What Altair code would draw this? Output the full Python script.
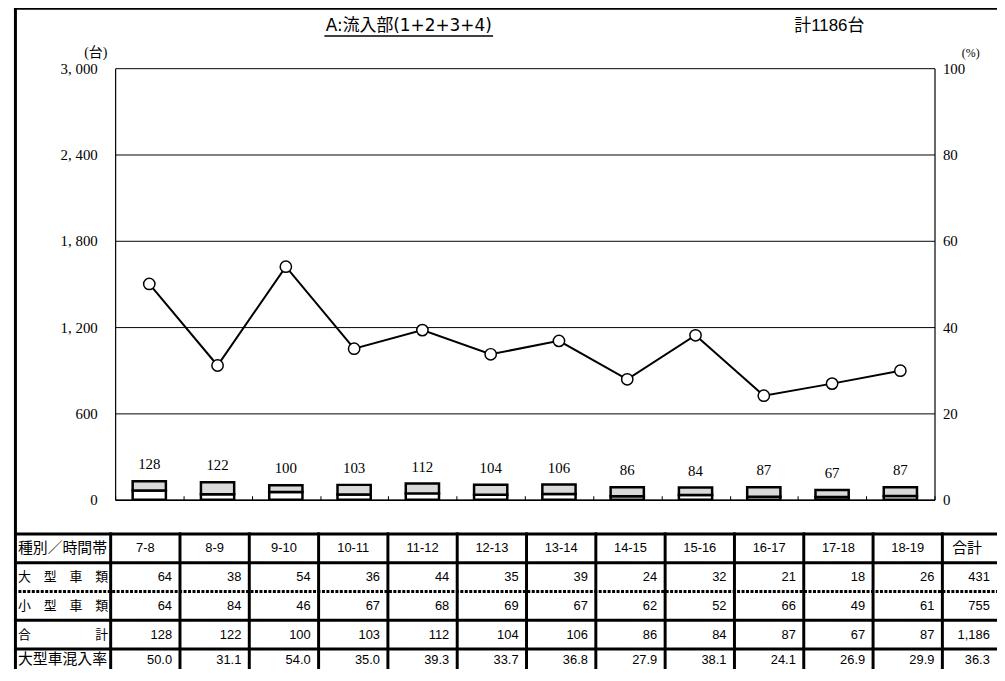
import altair as alt
import pandas as pd

# ---------------- data ----------------
hours = ["7-8", "8-9", "9-10", "10-11", "11-12", "12-13", "13-14",
         "14-15", "15-16", "16-17", "17-18", "18-19"]
large = [64, 38, 54, 36, 44, 35, 39, 24, 32, 21, 18, 26]
small = [64, 84, 46, 67, 68, 69, 67, 62, 52, 66, 49, 61]
total = [128, 122, 100, 103, 112, 104, 106, 86, 84, 87, 67, 87]
rate = [50.0, 31.1, 54.0, 35.0, 39.3, 33.7, 36.8, 27.9, 38.1, 24.1, 26.9, 29.9]
sum_label = "合計"
sum_large = 431
sum_small = 755
sum_total = 1186
sum_rate = 36.3
title_main = "A:流入部(1+2+3+4)"
title_total = "計1186台"
row_keys = ["head", "large", "small", "total", "rate"]
row_labels = ["種別／時間帯", "大　型　車　類", "小　型　車　類", "合　　　　　計", "大型車混入率"]
type_names = ["大型車類", "小型車類"]
y_left_ticks = [0, 600, 1200, 1800, 2400, 3000]
y_right_ticks = [0, 20, 40, 60, 80, 100]

# ---------------- tables built from the arrays ----------------
W, H = 826, 435
SANS = "Liberation Sans, Noto Sans CJK JP"
CJK = "Noto Sans CJK JP"
SERIF = "Liberation Serif, Noto Sans CJK JP"

bar_df = pd.DataFrame(
    [{"hour": h, "type": type_names[0], "value": v, "ord": 0} for h, v in zip(hours, large)]
    + [{"hour": h, "type": type_names[1], "value": v, "ord": 1} for h, v in zip(hours, small)]
)
lab_df = pd.DataFrame({"hour": hours, "value": total})
rate_df = pd.DataFrame({"hour": hours, "rate": rate})

cols = hours + [sum_label]
col_large = large + [sum_large]
col_small = small + [sum_small]
col_total = total + [sum_total]
col_rate = rate + [sum_rate]
head_df = pd.DataFrame({"col": cols, "row": "head", "text": cols})
val_recs = []
for i, c in enumerate(cols):
    val_recs.append({"col": c, "row": "large", "text": f"{col_large[i]:,}"})
    val_recs.append({"col": c, "row": "small", "text": f"{col_small[i]:,}"})
    val_recs.append({"col": c, "row": "total", "text": f"{col_total[i]:,}"})
    val_recs.append({"col": c, "row": "rate", "text": f"{col_rate[i]:.1f}"})
val_df = pd.DataFrame(val_recs)
rowlab_df = pd.DataFrame({"row": row_keys, "label": row_labels})
hline_df = pd.DataFrame({"row": row_keys})
vline_df = pd.DataFrame({"col": cols})
one = pd.DataFrame({"a": [0]})
title_df = pd.DataFrame({"t": [title_main]})
total_df = pd.DataFrame({"t": [title_total]})

# ---------------- main plot ----------------
x_scale = alt.Scale(domain=hours, paddingInner=0, paddingOuter=0)
x_axis = alt.Axis(orient="top", offset=-H, labels=False, title=None, domain=True,
                  domainColor="black", domainWidth=1.5, ticks=True, tickColor="black",
                  tickWidth=1, tickSize=4, tickBand="extent", grid=False)
xenc = alt.X("hour:N", sort=hours, scale=x_scale, axis=x_axis)

yl_axis = alt.Axis(orient="left", values=y_left_ticks, grid=True, gridColor="black",
                   gridWidth=1, ticks=False, domain=True, domainColor="black", domainWidth=1.2,
                   labelFont=SERIF, labelFontSize=15, labelColor="black", labelPadding=18,
                   labelBaseline="middle",
                   labelExpr="replace(format(datum.value, ','), ',', ', ')",
                   title="(台)", titleAngle=0, titleX=-20, titleY=-16, titleFont=SERIF,
                   titleFontSize=14, titleFontWeight="normal", titleAlign="center",
                   titleBaseline="middle", titleColor="black")
yl = alt.Y("value:Q", stack="zero", scale=alt.Scale(domain=[0, 3000], nice=False), axis=yl_axis)

bars = alt.Chart(bar_df).mark_bar(size=33.5, stroke="black", strokeWidth=2.5).encode(
    x=xenc,
    y=yl,
    fill=alt.Fill("type:N", scale=alt.Scale(domain=type_names, range=["white", "#d9d9d9"]), legend=None),
    order=alt.Order("ord:Q"),
)
bar_labels = alt.Chart(lab_df).mark_text(font=SERIF, fontSize=15, baseline="middle", dy=-17,
                                         color="black").encode(
    x=xenc,
    y=yl,
    text=alt.Text("value:Q"),
)

yr_axis = alt.Axis(orient="right", values=y_right_ticks, grid=False, ticks=False, domain=True,
                   domainColor="black", domainWidth=1.2, labelFont=SERIF, labelFontSize=15,
                   labelColor="black", labelPadding=8, labelBaseline="middle",
                   title="(%)", titleAngle=0, titleX=36, titleY=-16, titleFont=SERIF,
                   titleFontSize=12, titleFontWeight="normal", titleAlign="center",
                   titleBaseline="middle", titleColor="black")
yr = alt.Y("rate:Q", scale=alt.Scale(domain=[0, 100], nice=False), axis=yr_axis)

line = alt.Chart(rate_df).mark_line(color="black", strokeWidth=2).encode(x=xenc, y=yr)
points = alt.Chart(rate_df).mark_circle(size=130, fill="white", stroke="black",
                                        strokeWidth=1.5, opacity=1).encode(x=xenc, y=yr)

plot = alt.layer(alt.layer(bars, bar_labels), alt.layer(line, points)).resolve_scale(y="independent")

# ---------------- table ----------------
tx_scale = alt.Scale(domain=cols, range=[-4.5, 903.8], paddingInner=0, paddingOuter=0)
ty_scale = alt.Scale(domain=row_keys, range=[469.5, 614.5], paddingInner=0, paddingOuter=0)
tyenc = alt.Y("row:N", scale=ty_scale, axis=None)
last_row = "datum.row == 'rate'"
sum_col = f"datum.col == '{sum_label}'"

hlines = alt.Chart(hline_df).mark_rule(color="black", strokeWidth=3).encode(
    y=alt.Y("row:N", bandPosition=0, scale=ty_scale, axis=None),
    x=alt.value(-102), x2=alt.value(1000),
    strokeDash=alt.condition("datum.row == 'small'", alt.value([3, 1.5]), alt.value([1, 0])),
)
vlines = alt.Chart(vline_df).mark_rule(color="black", strokeWidth=3).encode(
    x=alt.X("col:N", bandPosition=0, scale=tx_scale, axis=None),
    y=alt.value(468), y2=alt.value(700),
)
head_txt = alt.Chart(head_df).transform_filter(f"!({sum_col})").mark_text(
    font=SANS, fontSize=13, align="center", baseline="middle", color="black").encode(
    x=alt.X("col:N", bandPosition=0.5, scale=tx_scale, axis=None),
    y=tyenc, text="text:N",
)
head_sum = alt.Chart(head_df).transform_filter(sum_col).mark_text(
    font=SANS, fontSize=15, align="center", baseline="middle", dx=-10, color="black").encode(
    x=alt.X("col:N", bandPosition=0.5, scale=tx_scale, axis=None),
    y=tyenc, text="text:N",
)


def values_layer(filt, dx, dy):
    return alt.Chart(val_df).transform_filter(filt).mark_text(
        font=SANS, fontSize=13, align="right", baseline="middle", dx=dx, dy=dy,
        color="black").encode(
        x=alt.X("col:N", bandPosition=1, scale=tx_scale, axis=None),
        y=tyenc, text="text:N",
    )


val_main = values_layer(f"!({sum_col}) && !({last_row})", -8, 0)
val_main_last = values_layer(f"!({sum_col}) && ({last_row})", -8, -3)
val_sum = values_layer(f"({sum_col}) && !({last_row})", -22, 0)
val_sum_last = values_layer(f"({sum_col}) && ({last_row})", -22, -3)

row_txt = alt.Chart(rowlab_df).transform_filter(f"!({last_row})").mark_text(
    font=CJK, align="left", baseline="middle", color="black").encode(
    x=alt.value(-98),
    y=tyenc,
    text="label:N",
    size=alt.condition("length(datum.label) > 6", alt.value(13), alt.value(15)),
)
row_txt_last = alt.Chart(rowlab_df).transform_filter(last_row).mark_text(
    font=CJK, fontSize=15, align="left", baseline="middle", dy=-4, color="black").encode(
    x=alt.value(-98),
    y=tyenc,
    text="label:N",
)
table = alt.layer(hlines, vlines, head_txt, head_sum, val_main, val_main_last,
                  val_sum, val_sum_last, row_txt, row_txt_last)

# ---------------- frame and titles ----------------
frame_top = alt.Chart(one).mark_rule(color="black", strokeWidth=3).encode(
    x=alt.value(-102), x2=alt.value(1000), y=alt.value(-60.5))
frame_left = alt.Chart(one).mark_rule(color="black", strokeWidth=3).encode(
    x=alt.value(-100.5), y=alt.value(-62), y2=alt.value(700))
t1 = alt.Chart(title_df).mark_text(font="DejaVu Sans, Noto Sans CJK JP", fontSize=17,
                                   align="center", baseline="middle", color="black").encode(
    x=alt.value(296), y=alt.value(-42), text="t:N")
t1_line = alt.Chart(one).mark_rule(color="black", strokeWidth=1.5).encode(
    x=alt.value(211), x2=alt.value(381), y=alt.value(-32.5))
t2 = alt.Chart(total_df).mark_text(font=SANS, fontSize=17, align="center", baseline="middle",
                                   color="black").encode(
    x=alt.value(720), y=alt.value(-42), text="t:N")
deco = alt.layer(frame_top, frame_left, t1, t1_line, t2)

chart = alt.layer(plot, table, deco).resolve_scale(
    x="independent", y="independent"
).properties(
    width=W, height=H,
    autosize=alt.AutoSizeParams(type="none"),
    padding={"left": 108, "top": 58, "right": 63, "bottom": 168},
).configure_view(strokeWidth=0)

chart.save("out.html", embed_options={"renderer": "svg", "actions": False})
